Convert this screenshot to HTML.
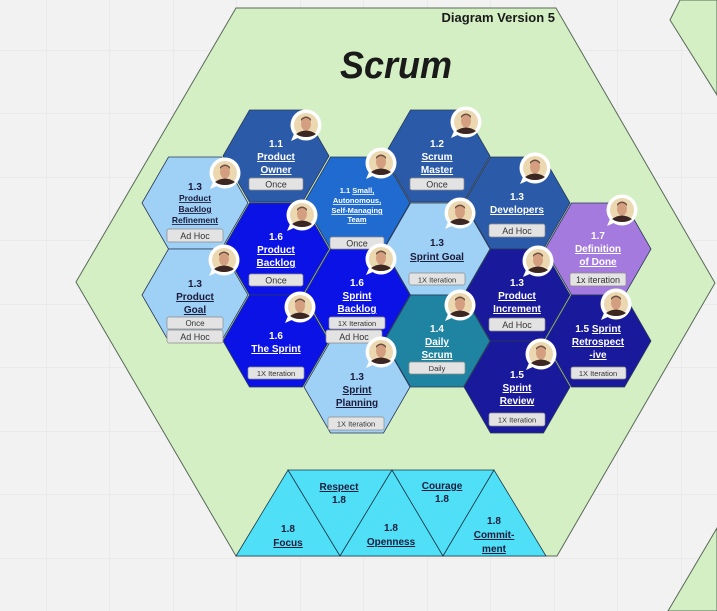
<!DOCTYPE html>
<html><head><meta charset="utf-8"><style>
html,body{margin:0;padding:0;background:#f2f2f2;}
svg{display:block;font-family:"Liberation Sans","DejaVu Sans",sans-serif;}
</style></head><body>
<svg width="717" height="611" viewBox="0 0 717 611" xmlns="http://www.w3.org/2000/svg">
<defs>
<pattern id="grid" width="63.5" height="63.5" patternUnits="userSpaceOnUse" x="46" y="50">
<path d="M0 0H63.5M0 0V63.5" stroke="#e2e2e2" stroke-width="1" fill="none"/>
</pattern>
<g id="av">
<path d="M-12 9 L-15 16 L-6 12 Z" fill="#fff"/>
<circle r="15.5" fill="#fff"/>
<circle r="12" fill="#ecd8b0"/>
<path d="M-10 9 Q0 2 10 9 Q6 12 0 12 Q-6 12 -10 9Z" fill="#3b2622"/>
<ellipse cx="0" cy="-1" rx="5" ry="6.5" fill="#d49f80"/>
<path d="M-5 -4 Q0 -10 5 -4 L5 -6 Q0 -11 -5 -6Z" fill="#6b5040"/>
</g>
</defs>
<rect width="717" height="611" fill="url(#grid)"/>
<polygon points="236,8 556,8 715,283 557,556 236,556 76,282" fill="#d3efc3" stroke="#5a6a5a" stroke-width="1"/>
<polygon points="680,0 717,0 717,95 670,20" fill="#d3efc3" stroke="#5a6a5a" stroke-width="1"/>
<polygon points="717,528 717,611 668,611" fill="#d3efc3" stroke="#5a6a5a" stroke-width="1"/>
<text x="555" y="22" text-anchor="end" font-size="13" font-weight="bold" fill="#1a1a1a">Diagram Version 5</text>
<text x="396" y="78" text-anchor="middle" font-size="38" font-weight="bold" font-style="italic" fill="#1a1a1a" textLength="112" lengthAdjust="spacingAndGlyphs">Scrum</text>

<g stroke="#2a3a5a" stroke-width="0.8">
<polygon transform="translate(195,203)" points="-53,0 -26.5,-46 26.5,-46 53,0 26.5,46 -26.5,46" fill="#9fd0f5"/>
<polygon transform="translate(195,295)" points="-53,0 -26.5,-46 26.5,-46 53,0 26.5,46 -26.5,46" fill="#9fd0f5"/>
<polygon transform="translate(276,156)" points="-53,0 -26.5,-46 26.5,-46 53,0 26.5,46 -26.5,46" fill="#2b5aa8"/>
<polygon transform="translate(437,156)" points="-53,0 -26.5,-46 26.5,-46 53,0 26.5,46 -26.5,46" fill="#2b5aa8"/>
<polygon transform="translate(357,203)" points="-53,0 -26.5,-46 26.5,-46 53,0 26.5,46 -26.5,46" fill="#1f6bd0"/>
<polygon transform="translate(517,203)" points="-53,0 -26.5,-46 26.5,-46 53,0 26.5,46 -26.5,46" fill="#2b5aa8"/>
<polygon transform="translate(276,249)" points="-53,0 -26.5,-46 26.5,-46 53,0 26.5,46 -26.5,46" fill="#0b12e6"/>
<polygon transform="translate(437,249)" points="-53,0 -26.5,-46 26.5,-46 53,0 26.5,46 -26.5,46" fill="#9fd0f5"/>
<polygon transform="translate(598,249)" points="-53,0 -26.5,-46 26.5,-46 53,0 26.5,46 -26.5,46" fill="#a57ade"/>
<polygon transform="translate(357,295)" points="-53,0 -26.5,-46 26.5,-46 53,0 26.5,46 -26.5,46" fill="#0b12e6"/>
<polygon transform="translate(517,295)" points="-53,0 -26.5,-46 26.5,-46 53,0 26.5,46 -26.5,46" fill="#19199c"/>
<polygon transform="translate(276,341)" points="-53,0 -26.5,-46 26.5,-46 53,0 26.5,46 -26.5,46" fill="#0b12e6"/>
<polygon transform="translate(437,341)" points="-53,0 -26.5,-46 26.5,-46 53,0 26.5,46 -26.5,46" fill="#1f84a2"/>
<polygon transform="translate(598,341)" points="-53,0 -26.5,-46 26.5,-46 53,0 26.5,46 -26.5,46" fill="#19199c"/>
<polygon transform="translate(357,387)" points="-53,0 -26.5,-46 26.5,-46 53,0 26.5,46 -26.5,46" fill="#9fd0f5"/>
<polygon transform="translate(517,387)" points="-53,0 -26.5,-46 26.5,-46 53,0 26.5,46 -26.5,46" fill="#19199c"/>
</g>

<g font-weight="bold" text-anchor="middle" font-size="10">
<g fill="#1b1b3a">
<text x="195" y="190">1.3</text>
<text x="195" y="201" font-size="8.5" text-decoration="underline">Product</text>
<text x="195" y="212" font-size="8.5" text-decoration="underline">Backlog</text>
<text x="195" y="223" font-size="8.5" text-decoration="underline">Refinement</text>
<text x="195" y="287">1.3</text>
<text x="195" y="300" text-decoration="underline">Product</text>
<text x="195" y="313" text-decoration="underline">Goal</text>
<text x="437" y="246">1.3</text>
<text x="437" y="260" text-decoration="underline">Sprint Goal</text>
<text x="357" y="380">1.3</text>
<text x="357" y="393" text-decoration="underline">Sprint</text>
<text x="357" y="406" text-decoration="underline">Planning</text>
</g>
<g fill="#ffffff">
<text x="276" y="147">1.1</text>
<text x="276" y="160" text-decoration="underline">Product</text>
<text x="276" y="173" text-decoration="underline">Owner</text>
<text x="437" y="147">1.2</text>
<text x="437" y="160" text-decoration="underline">Scrum</text>
<text x="437" y="173" text-decoration="underline">Master</text>
<text x="357" y="193" font-size="7.5">1.1 <tspan text-decoration="underline">Small,</tspan></text>
<text x="357" y="203" font-size="7.5" text-decoration="underline">Autonomous,</text>
<text x="357" y="213" font-size="7.5" text-decoration="underline">Self-Managing</text>
<text x="357" y="222" font-size="7.5" text-decoration="underline">Team</text>
<text x="517" y="200">1.3</text>
<text x="517" y="213" text-decoration="underline">Developers</text>
<text x="276" y="240">1.6</text>
<text x="276" y="253" text-decoration="underline">Product</text>
<text x="276" y="266" text-decoration="underline">Backlog</text>
<text x="598" y="239">1.7</text>
<text x="598" y="252" text-decoration="underline">Definition</text>
<text x="598" y="265" text-decoration="underline">of Done</text>
<text x="357" y="286">1.6</text>
<text x="357" y="299" text-decoration="underline">Sprint</text>
<text x="357" y="312" text-decoration="underline">Backlog</text>
<text x="517" y="286">1.3</text>
<text x="517" y="299" text-decoration="underline">Product</text>
<text x="517" y="312" text-decoration="underline">Increment</text>
<text x="276" y="339">1.6</text>
<text x="276" y="352" text-decoration="underline">The Sprint</text>
<text x="437" y="332">1.4</text>
<text x="437" y="345" text-decoration="underline">Daily</text>
<text x="437" y="358" text-decoration="underline">Scrum</text>
<text x="598" y="332">1.5 <tspan text-decoration="underline">Sprint</tspan></text>
<text x="598" y="345" text-decoration="underline">Retrospect</text>
<text x="598" y="358" text-decoration="underline">-ive</text>
<text x="517" y="378">1.5</text>
<text x="517" y="391" text-decoration="underline">Sprint</text>
<text x="517" y="404" text-decoration="underline">Review</text>
</g>
</g>

<g font-size="9" text-anchor="middle" fill="#333">
<g fill="#e3e3e3" stroke="#8a8a8a" stroke-width="0.7">
<rect x="249" y="178" width="54" height="12" rx="2"/>
<rect x="410" y="178" width="54" height="12" rx="2"/>
<rect x="167" y="229" width="56" height="13" rx="2"/>
<rect x="330" y="237" width="54" height="12" rx="2"/>
<rect x="489" y="224" width="56" height="13" rx="2"/>
<rect x="249" y="274" width="54" height="12" rx="2"/>
<rect x="409" y="273" width="56" height="12" rx="2"/>
<rect x="570" y="273" width="56" height="13" rx="2"/>
<rect x="167" y="317" width="56" height="12" rx="2"/>
<rect x="167" y="330" width="56" height="13" rx="2"/>
<rect x="329" y="317" width="56" height="12" rx="2"/>
<rect x="326" y="330" width="56" height="13" rx="2"/>
<rect x="489" y="318" width="56" height="13" rx="2"/>
<rect x="248" y="367" width="56" height="12" rx="2"/>
<rect x="409" y="362" width="56" height="12" rx="2"/>
<rect x="571" y="367" width="55" height="12" rx="2"/>
<rect x="328" y="417" width="56" height="13" rx="2"/>
<rect x="489" y="413" width="56" height="13" rx="2"/>
</g>
<text x="276" y="187.5">Once</text>
<text x="437" y="187.5">Once</text>
<text x="195" y="239">Ad Hoc</text>
<text x="357" y="246.5">Once</text>
<text x="517" y="234">Ad Hoc</text>
<text x="276" y="283.5">Once</text>
<text x="437" y="282.5" font-size="7.5">1X Iteration</text>
<text x="598" y="283">1x iteration</text>
<text x="195" y="326" font-size="8">Once</text>
<text x="195" y="340">Ad Hoc</text>
<text x="357" y="326" font-size="7.5">1X Iteration</text>
<text x="354" y="340">Ad Hoc</text>
<text x="517" y="328">Ad Hoc</text>
<text x="276" y="376" font-size="7.5">1X Iteration</text>
<text x="437" y="371" font-size="7.5">Daily</text>
<text x="598" y="376" font-size="7.5">1X Iteration</text>
<text x="356" y="426.5" font-size="7.5">1X Iteration</text>
<text x="517" y="422.5" font-size="7.5">1X Iteration</text>
</g>

<use href="#av" x="306" y="125"/>
<use href="#av" x="466" y="122"/>
<use href="#av" x="225" y="173"/>
<use href="#av" x="381" y="163"/>
<use href="#av" x="535" y="168"/>
<use href="#av" x="302" y="215"/>
<use href="#av" x="460" y="213"/>
<use href="#av" x="622" y="210"/>
<use href="#av" x="224" y="260"/>
<use href="#av" x="381" y="259"/>
<use href="#av" x="538" y="261"/>
<use href="#av" x="300" y="307"/>
<use href="#av" x="460" y="305"/>
<use href="#av" x="616" y="304"/>
<use href="#av" x="381" y="352"/>
<use href="#av" x="541" y="354"/>

<g fill="#4fe0f8" stroke="#1a3a4a" stroke-width="0.8">
<polygon points="236,556 288,470 340,556"/>
<polygon points="288,470 392,470 340,556"/>
<polygon points="340,556 392,470 443,556"/>
<polygon points="392,470 494,470 443,556"/>
<polygon points="443,556 494,470 546,556"/>
</g>
<g font-size="10" font-weight="bold" text-anchor="middle" fill="#1b1b3a">
<text x="339" y="490" text-decoration="underline">Respect</text>
<text x="339" y="503">1.8</text>
<text x="442" y="489" text-decoration="underline">Courage</text>
<text x="442" y="502">1.8</text>
<text x="288" y="532">1.8</text>
<text x="288" y="546" text-decoration="underline">Focus</text>
<text x="391" y="531">1.8</text>
<text x="391" y="545" text-decoration="underline">Openness</text>
<text x="494" y="524">1.8</text>
<text x="494" y="538" text-decoration="underline">Commit-</text>
<text x="494" y="552" text-decoration="underline">ment</text>
</g>
</svg>
</body></html>
